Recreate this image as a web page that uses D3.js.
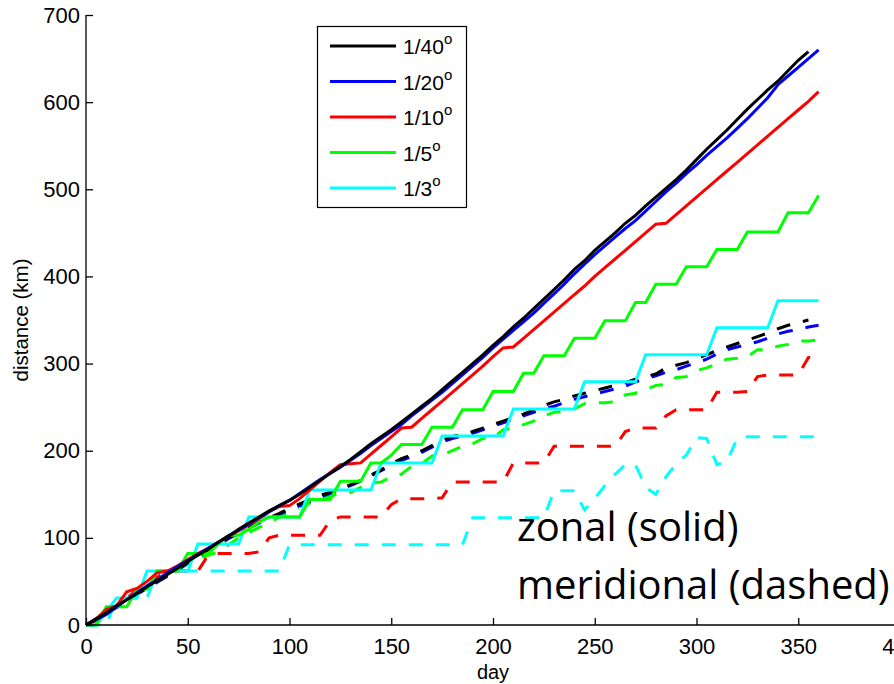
<!DOCTYPE html>
<html>
<head>
<meta charset="utf-8">
<script src="https://d3js.org/d3.v7.min.js"></script>
<style>
  html, body { margin: 0; padding: 0; background: #fff; }
  svg { display: block; }
</style>
</head>
<body>
<svg id="chart" width="894" height="684"></svg>
<script>
// Cumulative drift distance (km) sampled every 5 days, per grid resolution.
const days = d3.range(0, 361, 5);

const resolutions = ["1/40", "1/20", "1/10", "1/5", "1/3"];
const colors = ["#000000", "#0000ff", "#ff0000", "#00ff00", "#00ffff"];

// zonal component (solid lines)
const zonal_40 = [0,7,14,22,29,36,44,51,58,65,73,80,87,95,102,110,117,124,131,137,143,150,158,166,174,182,190,199,208,216,224,233,242,251,260,270,280,290,300,310,321,331,342,352,363,374,385,396,408,418,430,440,450,461,470,481,491,501,511,522,534,546,557,568,580,592,603,614,624,636,648,658,null];
const zonal_20 = [0,6,12,21,29,37,45,52,60,67,74,81,88,95,102,109,116,123,130,137,143,151,159,167,174,181,189,197,206,214,222,230,240,249,258,267,277,287,297,307,318,328,338,348,358,369,380,391,403,414,425,435,445,455,464,475,486,497,507,518,528,539,549,559,570,581,593,605,620,630,640,650,660];
const zonal_10 = [0,7,18,22,38,42,50,60,62,68,75,82,88,95,102,108,115,122,130,136,137,145,155,165,175,184,185,186,196,206,216,226,227,237,247,257,267,277,287,297,308,318,319,329,339,349,359,369,379,389,400,410,420,430,440,450,460,461,471,481,491,501,511,521,531,541,551,561,571,581,591,601,612];
const zonal_5 = [0,0,21,21,21,41,41,62,62,62,82,82,82,93,103,103,110,118,124,124,124,124,144,144,144,165,165,165,186,186,195,207,207,207,227,227,227,247,247,247,268,268,268,289,289,309,309,309,329,329,329,349,349,349,370,370,391,391,391,411,411,411,431,431,431,451,451,451,451,473,473,473,493];
const zonal_3 = [0,0,15,31,31,31,62,62,62,62,62,93,93,93,93,93,124,124,124,124,124,124,155,155,155,155,155,155,155,186,186,186,186,186,186,217,217,217,217,217,217,217,248,248,248,248,248,248,248,279,279,279,279,279,279,310,310,310,310,310,310,310,341,341,341,341,341,341,372,372,372,372,372];

// meridional component (dashed lines)
const merid_40 = [0,7,14,21,28,36,43,50,57,64,72,79,86,93,100,106,112,118,123,128,134,139,144,149,152,156,161,166,172,178,185,191,195,200,206,212,216,219,222,226,230,234,238,242,247,252,256,259,263,266,269,272,275,278,282,285,288,295,298,301,306,310,315,319,323,327,331,335,340,344,347,350,null];
const merid_20 = [0,6,13,20,27,35,42,49,56,63,71,78,85,92,99,105,111,117,122,127,132,137,142,147,151,155,160,165,171,177,183,189,193,198,204,210,214,217,220,224,228,232,236,240,244,248,251,255,259,262,265,268,271,274,279,282,286,290,293,297,301,305,311,316,319,322,325,329,334,337,339,342,344];
const merid_10 = [0,5,20,20,30,41,41,55,62,62,62,62,80,82,82,82,82,84,100,103,103,103,103,103,120,124,124,124,124,124,138,145,145,145,145,146,164,164,164,164,164,164,186,186,186,186,205,205,205,205,205,205,205,222,226,226,226,240,247,247,247,247,267,267,267,268,285,287,287,287,287,307,307];
const merid_5 = [0,5,14,22,30,37,44,52,58,63,70,76,80,84,92,100,106,112,117,124,130,136,140,144,148,151,152,158,163,164,170,173,182,185,194,195,200,205,208,214,215,224,226,230,234,240,244,245,248,254,255,255,256,264,266,270,275,276,284,285,292,295,300,305,306,308,316,316,320,322,326,326,327];
const merid_3 = [0,0,0,31,31,31,31,62,62,62,62,62,62,62,62,62,62,62,62,62,92,92,92,92,92,92,92,92,92,92,92,92,92,92,92,92,92,92,123,123,123,123,123,123,123,123,154,154,154,132,145,160,173,184,184,158,150,170,185,195,215,214,184,188,214,216,216,216,216,216,216,216,216];

const zonalSeries = [zonal_40, zonal_20, zonal_10, zonal_5, zonal_3];
const meridSeries = [merid_40, merid_20, merid_10, merid_5, merid_3];

const xTicks = [0, 50, 100, 150, 200, 250, 300, 350, 400];
const yTicks = [0, 100, 200, 300, 400, 500, 600, 700];

const svg = d3.select("#chart");
const font = "'Liberation Sans', Arial, sans-serif";

const x = d3.scaleLinear().domain([0, 400]).range([86, 900]);
const y = d3.scaleLinear().domain([0, 700]).range([625, 15]);

const line = d3.line()
  .defined(d => d[1] !== null)
  .x(d => x(d[0]))
  .y(d => y(d[1]));

const plot = svg.append("g");

// meridional first, zonal on top
meridSeries.slice().reverse().forEach((vals, ri) => {
  const i = meridSeries.length - 1 - ri;
  plot.append("path")
    .datum(days.map((d, k) => [d, vals[k]]))
    .attr("fill", "none")
    .attr("stroke", colors[i])
    .attr("stroke-width", 3)
    .attr("stroke-dasharray", "14,13")
    .attr("d", line);
});
zonalSeries.slice().reverse().forEach((vals, ri) => {
  const i = zonalSeries.length - 1 - ri;
  plot.append("path")
    .datum(days.map((d, k) => [d, vals[k]]))
    .attr("fill", "none")
    .attr("stroke", colors[i])
    .attr("stroke-width", 3)
    .attr("d", line);
});

// axes: ticks point into the plot area
const xAxis = svg.append("g")
  .attr("transform", `translate(0,${y(0)})`)
  .call(d3.axisBottom(x).tickValues(xTicks).tickSize(-7).tickPadding(13).tickFormat(d3.format("d")));
const yAxis = svg.append("g")
  .attr("transform", `translate(${x(0)},0)`)
  .call(d3.axisLeft(y).tickValues(yTicks).tickSize(-7).tickPadding(6).tickFormat(d3.format("d")));

[xAxis, yAxis].forEach(g => {
  g.select(".domain").attr("stroke", "#000").attr("stroke-width", 1.3);
  g.selectAll(".tick line").attr("stroke", "#000").attr("stroke-width", 1.3);
  g.selectAll(".tick text").attr("fill", "#000").style("font-family", font).style("font-size", "22px");
});
xAxis.select(".domain").attr("d", `M${x(0)},0H900`);
yAxis.select(".domain").attr("d", `M0,${y(0)}V${y(700)}`);

svg.append("text")
  .attr("x", 493).attr("y", 679)
  .attr("text-anchor", "middle")
  .style("font-family", font).style("font-size", "20px")
  .text("day");

svg.append("text")
  .attr("transform", `translate(28,${y(350)}) rotate(-90)`)
  .attr("text-anchor", "middle")
  .style("font-family", font).style("font-size", "20.5px")
  .text("distance (km)");

// legend
const lg = svg.append("g");
lg.append("rect")
  .attr("x", 317.5).attr("y", 26.5).attr("width", 149).attr("height", 181)
  .attr("fill", "#fff").attr("stroke", "#000").attr("stroke-width", 1.2);
resolutions.forEach((r, i) => {
  const yy = 46 + i * 35.5;
  lg.append("line")
    .attr("x1", 330).attr("x2", 396).attr("y1", yy).attr("y2", yy)
    .attr("stroke", colors[i]).attr("stroke-width", 3);
  const t = lg.append("text")
    .attr("x", 403).attr("y", yy + 8)
    .style("font-family", font).style("font-size", "21px")
    .attr("fill", "#000");
  t.append("tspan").text(r);
  t.append("tspan").attr("dy", -10).style("font-size", "15px").text("o");
});

// annotation
const ann = svg.append("g")
  .style("font-family", "'Open Sans', 'DejaVu Sans', sans-serif")
  .style("font-size", "40px")
  .attr("fill", "#000");
ann.append("text").attr("x", 517).attr("y", 541).text("zonal (solid)");
ann.append("text").attr("x", 517).attr("y", 599).text("meridional (dashed)");
</script>
</body>
</html>
